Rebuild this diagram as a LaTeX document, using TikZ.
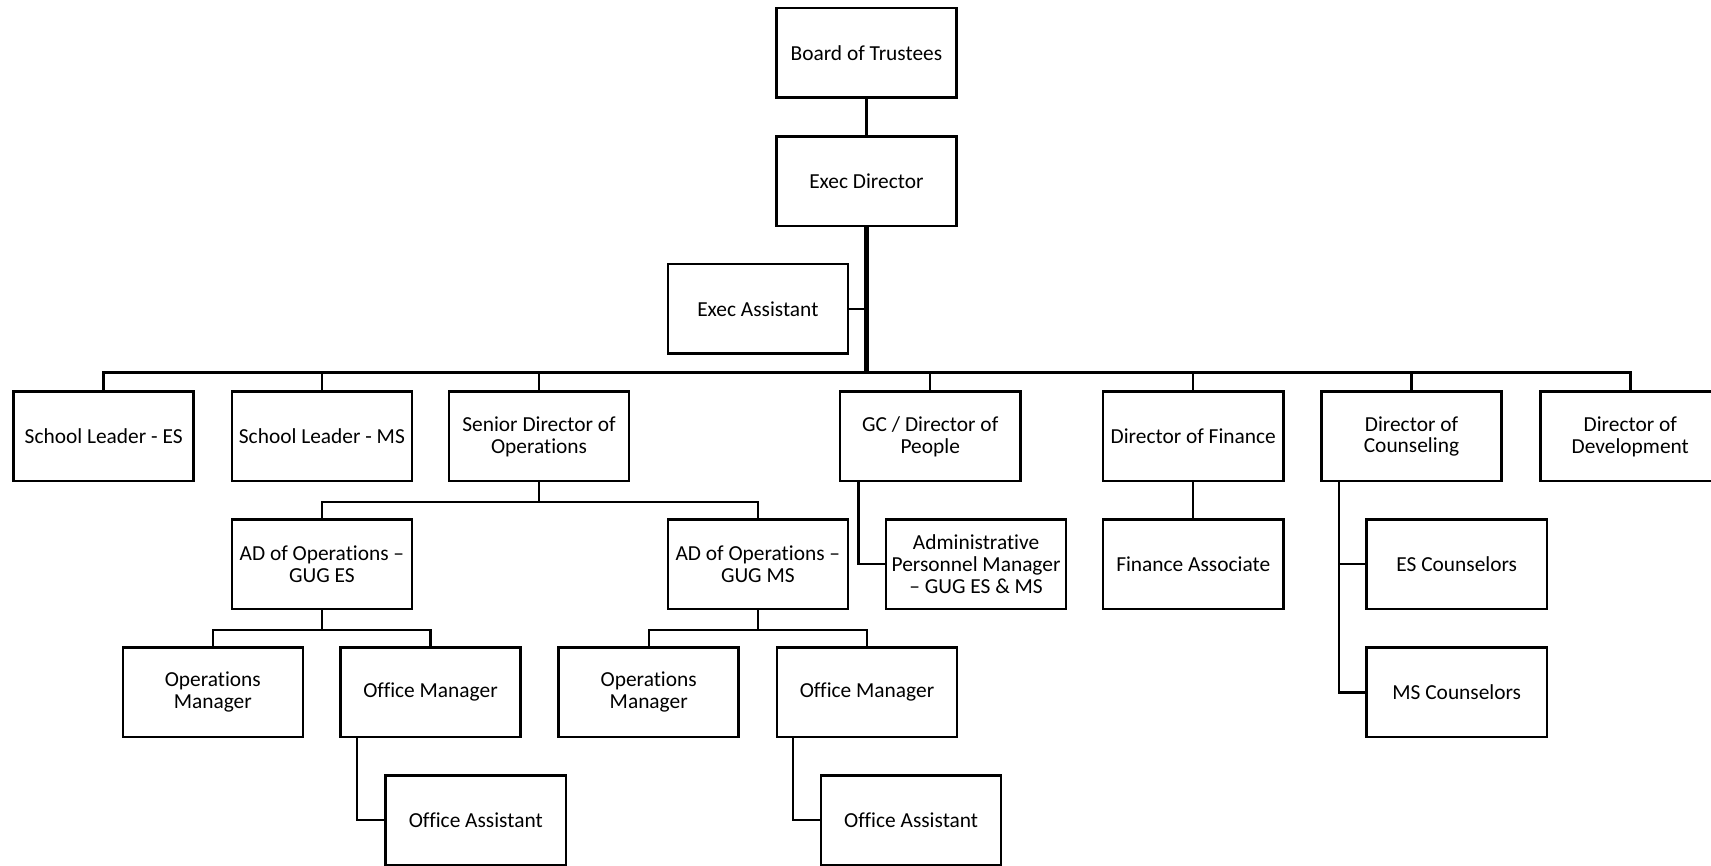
\documentclass[tikz,border=0pt]{standalone}
\usepackage{fontspec}
\setmainfont{Carlito}[Ligatures={TeX,NoCommon}]
\usetikzlibrary{calc}
\begin{document}
\begin{tikzpicture}[x=0.5pt,y=-0.5pt,
  box/.style={draw, line width=1.15pt, fill=white, minimum width=82.5pt, minimum height=41pt,
    align=center, inner sep=1pt, font=\fontsize{9.8}{10}\selectfont},
  thinline/.style={line width=1.05pt},
  busline/.style={line width=1.4pt},
  trunk/.style={line width=2pt}]
\useasboundingbox (0,0) rectangle (1568,793.6);
% level 0/1
\node[box] (BT) at (794,48.5) {Board of Trustees};
\node[box] (ED) at (794,166) {Exec Director};
\node[box] (EA) at (694.5,283) {Exec Assistant};
% level 2
\node[box] (SLES) at (95,400) {School Leader - ES};
\node[box] (SLMS) at (295,400) {School Leader - MS};
\node[box] (SDO) at (494,400) {Senior Director of\\Operations};
\node[box] (GC) at (852.5,400) {GC / Director of\\People};
\node[box] (DF) at (1093.5,400) {Director of Finance};
\node[box] (DC) at (1293.5,400) {Director of\\Counseling};
\node[box] (DD) at (1494,400) {Director of\\Development};
% level 3
\node[box] (ADES) at (295,517) {AD of Operations –\\GUG ES};
\node[box] (ADMS) at (694.5,517) {AD of Operations –\\GUG MS};
\node[box] (APM) at (894.5,517) {Administrative\\Personnel Manager\\– GUG ES \& MS};
\node[box] (FA) at (1093.5,517) {Finance Associate};
\node[box] (ESC) at (1335,517) {ES Counselors};
% level 4
\node[box] (OMES) at (195,634.5) {Operations\\Manager};
\node[box] (OFES) at (394.5,634.5) {Office Manager};
\node[box] (OMMS) at (594.5,634.5) {Operations\\Manager};
\node[box] (OFMS) at (794.5,634.5) {Office Manager};
\node[box] (MSC) at (1335,634.5) {MS Counselors};
% level 5
\node[box] (OAES) at (436,751.5) {Office Assistant};
\node[box] (OAMS) at (835,751.5) {Office Assistant};

% connectors
\coordinate (bus) at (794,341);
\draw[thinline] (BT.south) -- (ED.north);
\draw[trunk] (ED.south) -- (bus);
\draw[thinline] (EA.east) -- (ED.south |- EA.east);
\draw[busline] (SLES.north) -- (SLES.north |- bus) -- (DD.north |- bus) -- (DD.north);
\foreach \n in {SLMS,SDO,GC,DF,DC}
  \draw[thinline] (\n.north) -- (\n.north |- bus);

\draw[thinline] (SDO.south) -- ++(0,18) coordinate (s1);
\draw[thinline] (ADES.north) |- (s1) -| (ADMS.north);
\draw[thinline] ($(GC.south west)+(18,0)$) |- (APM.west);
\draw[thinline] (DF.south) -- (FA.north);
\draw[thinline] ($(DC.south west)+(17,0)$) |- (ESC.west);
\draw[thinline] ($(DC.south west)+(17,0)$) |- (MSC.west);

\draw[thinline] (ADES.south) -- ++(0,18) coordinate (s2);
\draw[thinline] (OMES.north) |- (s2) -| (OFES.north);
\draw[thinline] (ADMS.south) -- ++(0,18) coordinate (s3);
\draw[thinline] (OMMS.north) |- (s3) -| (OFMS.north);

\draw[thinline] ($(OFES.south west)+(16.5,0)$) |- (OAES.west);
\draw[thinline] ($(OFMS.south west)+(16,0)$) |- (OAMS.west);
\end{tikzpicture}
\end{document}
